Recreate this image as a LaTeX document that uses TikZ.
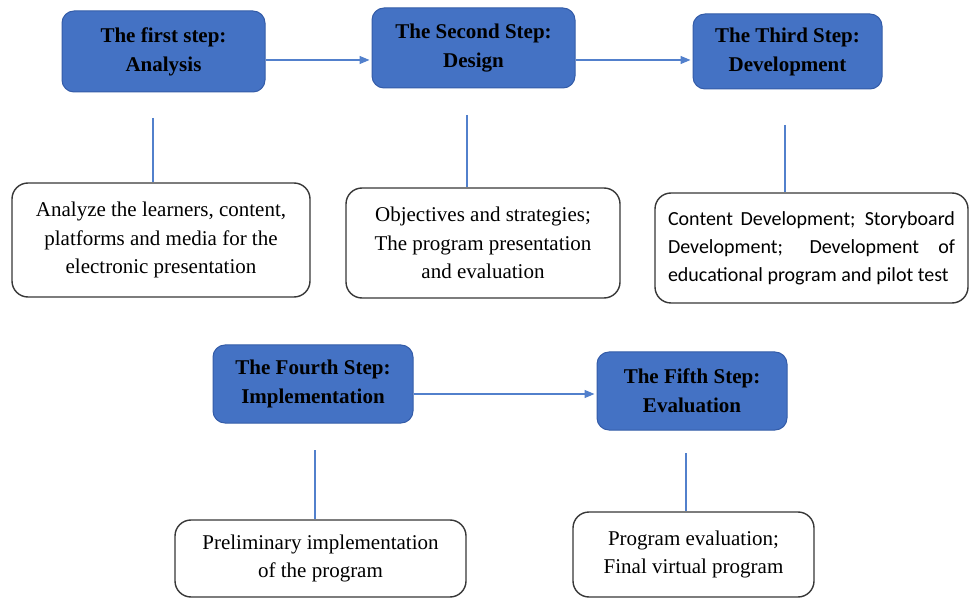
\documentclass[tikz,border=0pt]{standalone}
\usepackage{fontspec}
\setmainfont{Liberation Serif}
\newfontfamily\calfont{Carlito}
\usetikzlibrary{arrows.meta}
\definecolor{stepblue}{RGB}{68,114,196}
\definecolor{stepedge}{RGB}{52,92,168}
\definecolor{boxedge}{RGB}{55,55,55}
\definecolor{linkblue}{RGB}{82,128,204}
\begin{document}
\begin{tikzpicture}[x=1pt,y=-1pt,
  stepbox/.style={draw=stepedge, line width=1pt, fill=stepblue, rounded corners=12pt,
    align=center, inner sep=0pt, font=\bfseries\fontsize{21}{29}\selectfont},
  notebox/.style={draw=boxedge, line width=1.4pt, fill=white, rounded corners=16pt,
    align=center, inner sep=0pt, font=\fontsize{21}{28.5}\selectfont},
  link/.style={draw=linkblue, line width=1.3pt},
  arr/.style={link, shorten >=2pt, -{Triangle[length=10pt,width=8pt]}}]
\useasboundingbox (0,0) rectangle (969,601);

% step boxes
\node[stepbox, minimum width=203pt, minimum height=81pt] (b1) at (163.5,51.5) {The first step:\\Analysis};
\node[stepbox, minimum width=203pt, minimum height=80pt] (b2) at (473.5,48) {The Second Step:\\Design};
\node[stepbox, minimum width=189pt, minimum height=75pt] (b3) at (787.5,51.5) {The Third Step:\\Development};
\node[stepbox, minimum width=200pt, minimum height=78pt] (b4) at (313,384) {The Fourth Step:\\Implementation};
\node[stepbox, minimum width=190pt, minimum height=78pt] (b5) at (692,391) {The Fifth Step:\\Evaluation};

% description boxes
\node[notebox, minimum width=298pt, minimum height=114pt] (w1) at (161,240)
  {Analyze the learners, content,\\platforms and media for the\\electronic presentation};
\node[notebox, minimum width=274pt, minimum height=110pt] (w2) at (483,243)
  {Objectives and strategies;\\The program presentation\\and evaluation};
\node[notebox, minimum width=313pt, minimum height=110pt, text width=287pt, align=justify,
  font=\calfont\fontsize{20}{28}\selectfont] (w3) at (811.5,248)
  {Content Development; Storyboard\linebreak Development; Development of\linebreak educational program and pilot test};
\node[notebox, minimum width=291pt, minimum height=77pt] (w4) at (320.5,558.5)
  {Preliminary implementation\\of the program};
\node[notebox, minimum width=241pt, minimum height=85pt] (w5) at (693.5,554.5)
  {Program evaluation;\\Final virtual program};

% horizontal arrows
\coordinate (r1) at (0,60);
\coordinate (r2) at (0,394);
\draw[arr] (b1.east |- r1) -- (b2.west |- r1);
\draw[arr] (b2.east |- r1) -- (b3.west |- r1);
\draw[arr] (b4.east |- r2) -- (b5.west |- r2);

% vertical connectors
\coordinate (t1) at (153,118);
\coordinate (t2) at (467,115);
\coordinate (t3) at (785,125);
\coordinate (t4) at (315,450);
\coordinate (t5) at (686,453);
\draw[link] (t1) -- (t1 |- w1.north);
\draw[link] (t2) -- (t2 |- w2.north);
\draw[link] (t3) -- (t3 |- w3.north);
\draw[link] (t4) -- (t4 |- w4.north);
\draw[link] (t5) -- (t5 |- w5.north);
\end{tikzpicture}
\end{document}
